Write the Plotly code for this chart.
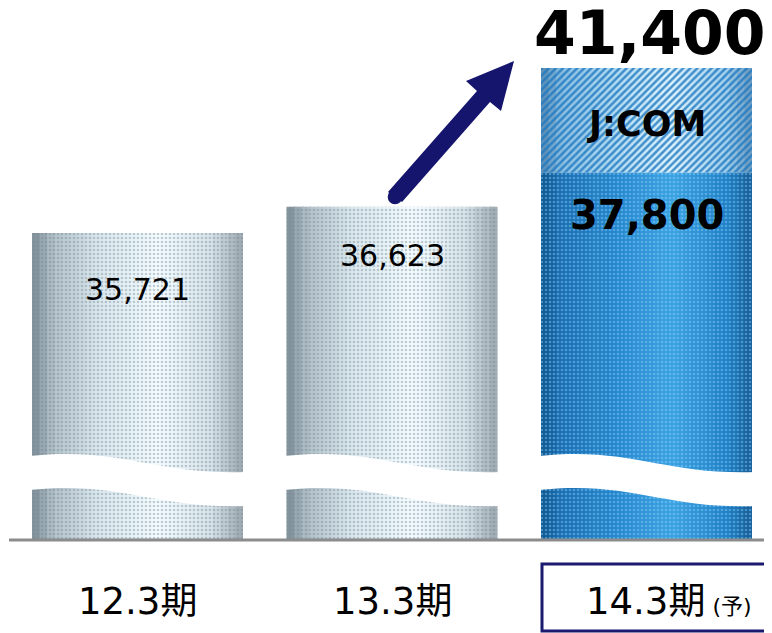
import plotly.graph_objects as go

# ---------------- data ----------------
categories = ["12.3期", "13.3期", "14.3期"]
tick_labels = ["12.3期", "13.3期", "14.3期<span style='font-size:22px'> (予)</span>"]
base_values = [35721, 36623, 37800]
jcom_values = [0, 0, 3600]
base_labels = ["35,721", "36,623", "37,800"]
jcom_labels = ["", "", "J:COM"]
total_label = "41,400"

# ---------------- geometry / style ----------------
# the page body has an 8px margin, so the figure is drawn 8px in from the window edge
OFF = 8
W, H = 772 - OFF, 633 - OFF
BASE_PY = 540                    # baseline in window pixels
PLOT_H = BASE_PY - OFF
CAT0_PX, CAT_STEP = 137.5, 254.5  # window pixels
X_RANGE = [-(CAT0_PX - OFF) / CAT_STEP, (772 - CAT0_PX) / CAT_STEP]
Y_RANGE = [25154, 41400 + (68 - OFF) * 34.42]
BAR_W = 0.829
N_STRIPS = 28
FONT = "DejaVu Sans, Verdana, Noto Sans CJK JP"


def hex2rgb(h):
    h = h.lstrip("#")
    return tuple(int(h[i:i + 2], 16) for i in (0, 2, 4))


def interp(stops, t):
    for (t0, c0), (t1, c1) in zip(stops[:-1], stops[1:]):
        if t0 <= t <= t1:
            f = (t - t0) / (t1 - t0) if t1 > t0 else 0
            a, b = hex2rgb(c0), hex2rgb(c1)
            return "rgb(%d,%d,%d)" % tuple(round(a[k] + (b[k] - a[k]) * f) for k in range(3))
    return stops[-1][1]


gray_stops = [(0, "#7b8a94"), (0.1, "#b2c0c8"), (0.3, "#d9e6ec"), (0.6, "#f5fdff"),
              (0.85, "#d8e3e9"), (1.0, "#9ca7ae")]
blue_stops = [(0, "#0e5690"), (0.1, "#1a70b4"), (0.35, "#2486cc"), (0.62, "#3aa2e2"),
              (0.88, "#1f80c6"), (1.0, "#155c95")]
jcom_stops = [(0, "#5688b0"), (0.1, "#8cc0e4"), (0.35, "#b2dcf3"), (0.62, "#def4fd"),
              (0.88, "#a2d0ee"), (1.0, "#6a98bd")]

fig = go.Figure()

step = BAR_W / N_STRIPS
for i in range(N_STRIPS):
    t = (i + 0.5) / N_STRIPS
    off = -BAR_W / 2 + i * step
    w = min(step * 1.35, BAR_W / 2 - off)
    g = interp(gray_stops, t)
    b = interp(blue_stops, t)
    j = interp(jcom_stops, t)
    fig.add_bar(x=categories, y=base_values, width=w, offset=off,
                marker=dict(color=[g, g, b], line_width=0), hoverinfo="skip")
    fig.add_bar(x=categories, y=jcom_values, base=base_values, width=w, offset=off,
                marker=dict(color=[j, j, j], line_width=0), hoverinfo="skip")

# texture overlays
fig.add_bar(x=categories, y=base_values, width=BAR_W, offset=-BAR_W / 2,
            marker=dict(color="rgba(0,0,0,0)", line_width=0,
                        pattern=dict(shape=".", fillmode="overlay",
                                     fgcolor=["#6f8796", "#6f8796", "#9bd8ff"],
                                     fgopacity=0.4, size=4, solidity=0.35)),
            hoverinfo="skip")
fig.add_bar(x=categories, y=jcom_values, base=base_values, width=BAR_W, offset=-BAR_W / 2,
            marker=dict(color="rgba(0,0,0,0)", line_width=0,
                        pattern=dict(shape="/", fillmode="overlay",
                                     fgcolor="#1f78c0", fgopacity=0.8, size=5, solidity=0.5)),
            hoverinfo="skip")


def xp(px):
    return (px - OFF) / W


def yp(py):
    return (BASE_PY - py) / PLOT_H


def cat_px(i):
    return CAT0_PX + CAT_STEP * i


shapes = []
# wavy axis-break bands
bar_px_w = BAR_W * CAT_STEP
for i in range(len(categories)):
    bx = cat_px(i) - bar_px_w / 2
    bw = bar_px_w
    top_l, top_r, bot_l, bot_r = 456, 472, 490, 506
    pts = [
        ("M", [(bx - 3, top_l)]),
        ("C", [(bx + 0.42 * bw, top_l - 10), (bx + 0.58 * bw, top_r + 3), (bx + bw + 3, top_r)]),
        ("L", [(bx + bw + 3, bot_r)]),
        ("C", [(bx + 0.58 * bw, bot_r + 3), (bx + 0.42 * bw, bot_l - 10), (bx - 3, bot_l)]),
    ]
    path = ""
    for cmd, plist in pts:
        path += cmd + " " + " ".join("%.5f,%.5f" % (xp(a), yp(c)) for a, c in plist) + " "
    path += "Z"
    shapes.append(dict(type="path", path=path, xref="paper", yref="paper",
                       fillcolor="white", line=dict(width=0), layer="above"))

# baseline
shapes.append(dict(type="line", xref="paper", yref="paper", x0=xp(9), x1=1, y0=0, y1=0,
                   line=dict(color="#8c8c8c", width=3), layer="above"))

# arrow
arrow_pts = [(388, 192), (477, 91), (466, 81), (514, 61), (501, 111), (490, 102), (402, 202)]
apath = "M " + " L ".join("%.5f,%.5f" % (xp(a), yp(c)) for a, c in arrow_pts) + " Z"
shapes.append(dict(type="path", path=apath, xref="paper", yref="paper",
                   fillcolor="#15156e", line=dict(width=0), layer="above"))
shapes.append(dict(type="circle", xref="paper", yref="paper",
                   x0=xp(395 - 7.3), x1=xp(395 + 7.3), y0=yp(197 + 7.3), y1=yp(197 - 7.3),
                   fillcolor="#15156e", line=dict(width=0), layer="above"))

# forecast box
shapes.append(dict(type="rect", xref="paper", yref="paper",
                   x0=xp(542), x1=xp(770), y0=yp(631), y1=yp(564),
                   line=dict(color="#1a1a6e", width=3), fillcolor="rgba(0,0,0,0)"))

annotations = []
label_shift = [-57, -49, -42]
label_size = [30, 30, 40]
for i, cat in enumerate(categories):
    bold = i == 2
    txt = "<b>%s</b>" % base_labels[i] if bold else base_labels[i]
    annotations.append(dict(x=cat, y=base_values[i], text=txt, showarrow=False,
                            yanchor="middle", yshift=label_shift[i],
                            font=dict(family=FONT, size=label_size[i], color="black")))
    if jcom_labels[i]:
        annotations.append(dict(x=cat, y=base_values[i] + jcom_values[i] / 2,
                                text="<b>%s</b>" % jcom_labels[i], showarrow=False,
                                yanchor="middle", yshift=-4,
                                font=dict(family=FONT, size=35, color="black")))
        annotations.append(dict(x=cat, y=base_values[i] + jcom_values[i],
                                text="<b>%s</b>" % total_label, showarrow=False,
                                yanchor="middle", yshift=35, xshift=3,
                                font=dict(family=FONT, size=60, color="black")))

label_xshift = [0, 0, 22]
for i, cat in enumerate(categories):
    annotations.append(dict(x=cat, y=0, yref="paper", text=tick_labels[i], showarrow=False,
                            yanchor="middle", yshift=-61, xshift=label_xshift[i],
                            font=dict(family=FONT, size=37, color="black")))

fig.update_layout(
    width=W, height=H,
    margin=dict(l=0, r=0, t=0, b=H - PLOT_H, pad=0),
    barmode="overlay",
    showlegend=False,
    paper_bgcolor="white", plot_bgcolor="white",
    xaxis=dict(type="category", range=X_RANGE, showticklabels=False, showgrid=False,
               zeroline=False, showline=False, ticks=""),
    yaxis=dict(range=Y_RANGE, visible=False, showgrid=False, zeroline=False),
    shapes=shapes,
    annotations=annotations,
)

fig.write_html("out.html")
